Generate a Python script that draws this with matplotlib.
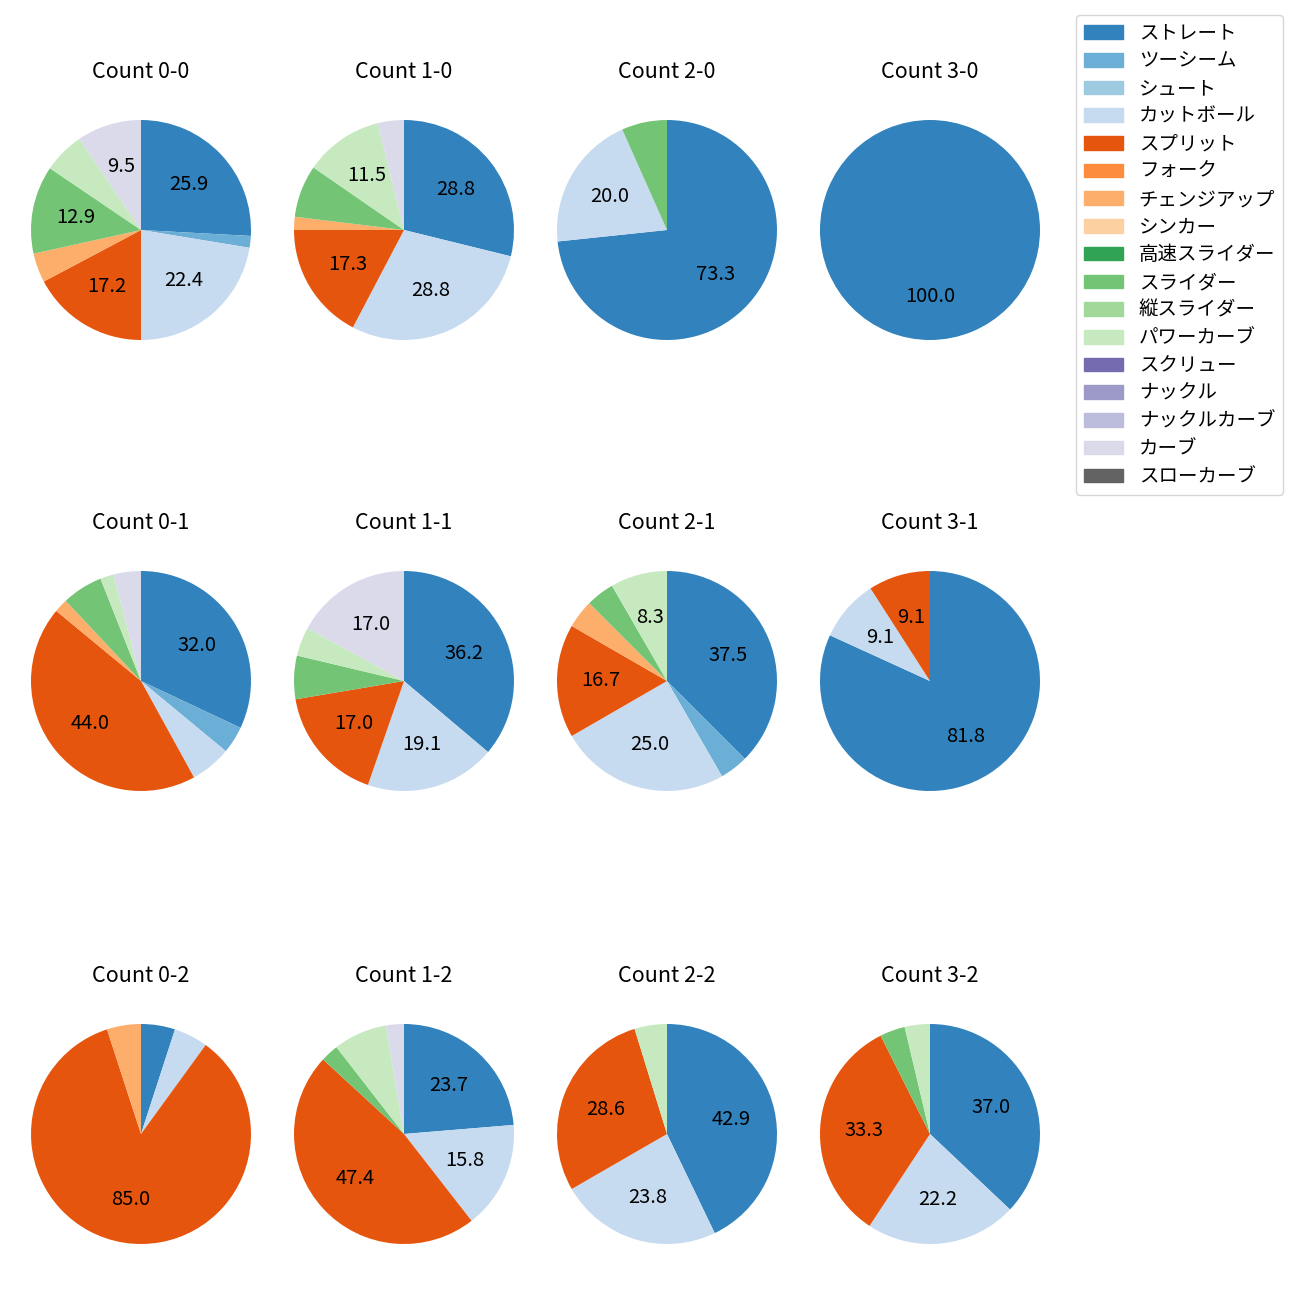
import matplotlib
matplotlib.use('Agg')
import matplotlib.pyplot as plt
import numpy as np

plt.rcParams['font.family'] = ['Noto Sans CJK JP', 'DejaVu Sans']

# 球種 (legend order)
pitch_types = ['ストレート', 'ツーシーム', 'シュート', 'カットボール', 'スプリット',
               'フォーク', 'チェンジアップ', 'シンカー', '高速スライダー', 'スライダー',
               '縦スライダー', 'パワーカーブ', 'スクリュー', 'ナックル', 'ナックルカーブ',
               'カーブ', 'スローカーブ']

counts = ['0-0', '1-0', '2-0', '3-0',
          '0-1', '1-1', '2-1', '3-1',
          '0-2', '1-2', '2-2', '3-2']

# pitches thrown per count, same order as pitch_types
c_00 = [30, 2, 0, 26, 20, 0, 5, 0, 0, 15, 0, 7, 0, 0, 0, 11, 0]
c_10 = [15, 0, 0, 15, 9, 0, 1, 0, 0, 4, 0, 6, 0, 0, 0, 2, 0]
c_20 = [11, 0, 0, 3, 0, 0, 0, 0, 0, 1, 0, 0, 0, 0, 0, 0, 0]
c_30 = [3, 0, 0, 0, 0, 0, 0, 0, 0, 0, 0, 0, 0, 0, 0, 0, 0]
c_01 = [16, 2, 0, 3, 22, 0, 1, 0, 0, 3, 0, 1, 0, 0, 0, 2, 0]
c_11 = [17, 0, 0, 9, 8, 0, 0, 0, 0, 3, 0, 2, 0, 0, 0, 8, 0]
c_21 = [9, 1, 0, 6, 4, 0, 1, 0, 0, 1, 0, 2, 0, 0, 0, 0, 0]
c_31 = [9, 0, 0, 1, 1, 0, 0, 0, 0, 0, 0, 0, 0, 0, 0, 0, 0]
c_02 = [1, 0, 0, 1, 17, 0, 1, 0, 0, 0, 0, 0, 0, 0, 0, 0, 0]
c_12 = [9, 0, 0, 6, 18, 0, 0, 0, 0, 1, 0, 3, 0, 0, 0, 1, 0]
c_22 = [9, 0, 0, 5, 6, 0, 0, 0, 0, 0, 0, 1, 0, 0, 0, 0, 0]
c_32 = [10, 0, 0, 6, 9, 0, 0, 0, 0, 1, 0, 1, 0, 0, 0, 0, 0]

data = [c_00, c_10, c_20, c_30, c_01, c_11, c_21, c_31, c_02, c_12, c_22, c_32]

colors = plt.get_cmap('tab20c').colors[:16] + ((0.388, 0.388, 0.388),)

fig = plt.figure(figsize=(13, 13), dpi=100)

cx = [141, 404, 667, 930]
cy = [230, 681, 1134]
size = 275

for i, (cnt, vals) in enumerate(zip(counts, data)):
    r, c = divmod(i, 4)
    ax = fig.add_axes([(cx[c] - size / 2) / 1300, 1 - (cy[r] + size / 2) / 1300,
                       size / 1300, size / 1300])
    vals = np.array(vals, dtype=float)
    keep = vals > 0
    v = vals[keep]
    cols = [colors[j] for j in range(len(pitch_types)) if keep[j]]
    ax.pie(v, colors=cols, startangle=90, counterclock=False,
           autopct=lambda p: '%.1f' % p if p >= 8 else '',
           textprops={'fontsize': 14.5})
    ax.set_title('Count ' + cnt, fontsize=15.5, pad=10.5)

handles = [plt.Rectangle((0, 0), 1, 1, color=col) for col in colors]
fig.legend(handles, pitch_types, loc='upper right', bbox_to_anchor=(0.9944, 0.9959),
           fontsize=14, labelspacing=0.345)

fig.savefig('out.png', dpi=100)
